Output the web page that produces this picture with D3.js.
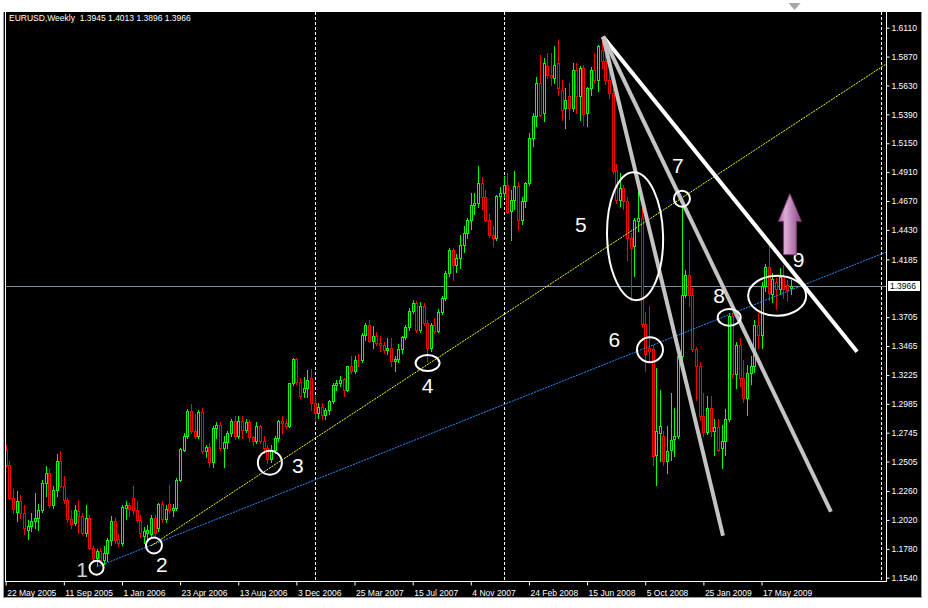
<!DOCTYPE html>
<html>
<head>
<meta charset="utf-8">
<script src="https://cdn.jsdelivr.net/npm/d3@7"></script>
<style>
  html, body { margin: 0; padding: 0; background: #fff; }
  svg { display: block; }
  text { font-family: "Liberation Sans", Arial, sans-serif; }
</style>
</head>
<body>
<svg id="chart"></svg>
<script>
// EURUSD weekly bars, first bar opens 22 May 2005
const firstBar = "2005-05-22";

const opens = [
  1.2604,1.2480,1.2205,1.2083,1.2174,1.2077,1.1940,1.1966,1.2010,1.2040,
  1.2099,1.2327,1.2410,1.2140,1.2271,1.2507,1.2300,1.2185,1.2030,1.1994,
  1.2095,1.2050,1.1911,1.2036,1.1787,1.1700,1.1759,1.1690,1.1745,1.1850,
  1.2010,1.1860,1.1830,1.2120,1.2140,1.2200,1.2100,1.2022,1.1890,1.1912,
  1.1900,1.2040,1.1950,1.2150,1.2030,1.2150,1.2100,1.2120,1.2354,1.2604,
  1.2714,1.2928,1.2756,1.2714,1.2914,1.2590,1.2625,1.2500,1.2784,1.2812,
  1.2620,1.2670,1.2740,1.2840,1.2720,1.2840,1.2770,1.2830,1.2710,1.2680,
  1.2800,1.2680,1.2620,1.2530,1.2600,1.2700,1.2839,1.2825,1.2800,1.3158,
  1.3357,1.3170,1.3080,1.3120,1.3200,1.2991,1.2908,1.2960,1.2890,1.2936,
  1.3005,1.3144,1.3158,1.3190,1.3102,1.3296,1.3255,1.3352,1.3349,1.3559,
  1.3640,1.3510,1.3545,1.3490,1.3470,1.3430,1.3450,1.3340,1.3360,1.3440,
  1.3540,1.3620,1.3760,1.3820,1.3600,1.3800,1.3660,1.3450,1.3640,1.3590,
  1.3750,1.3860,1.4070,1.4265,1.4141,1.4200,1.4307,1.4400,1.4510,1.4640,
  1.4650,1.4819,1.4700,1.4515,1.4390,1.4362,1.4709,1.4736,1.4806,1.4584,
  1.4681,1.4792,1.4515,1.4667,1.4819,1.5193,1.5373,1.5650,1.5401,1.5789,
  1.5719,1.5692,1.5816,1.5595,1.5442,1.5540,1.5442,1.5761,1.5539,1.5775,
  1.5401,1.5609,1.5761,1.5678,1.5927,1.5830,1.5678,1.5567,1.4930,1.4680,
  1.4778,1.4667,1.4362,1.4293,1.4501,1.4530,1.3650,1.3450,1.3440,1.2562,
  1.2742,1.2715,1.2507,1.2604,1.2690,1.2720,1.3379,1.3892,1.4058,1.3892,
  1.3440,1.3300,1.2881,1.2750,1.2950,1.2760,1.2790,1.2620,1.2680,1.2860,
  1.3711,1.3230,1.3470,1.3200,1.3030,1.3240,1.3300,1.3640,1.3560,1.3960,
  1.4120,1.3900,1.4000,1.3940,1.4040,1.3975,1.3945
];
const highs = [
  1.2640,1.2510,1.2280,1.2257,1.2230,1.2140,1.2022,1.2080,1.2244,1.2150,
  1.2355,1.2465,1.2440,1.2300,1.2570,1.2590,1.2382,1.2200,1.2100,1.2140,
  1.2188,1.2080,1.2147,1.2060,1.1800,1.1780,1.1790,1.1800,1.1870,1.2050,
  1.2040,1.1900,1.2140,1.2180,1.2160,1.2300,1.2180,1.2060,1.1960,1.1980,
  1.2060,1.2060,1.2160,1.2180,1.2140,1.2310,1.2150,1.2370,1.2620,1.2740,
  1.2940,1.2980,1.2900,1.2930,1.2950,1.2640,1.2660,1.2800,1.2830,1.2830,
  1.2720,1.2760,1.2860,1.2880,1.2880,1.2880,1.2860,1.2850,1.2720,1.2830,
  1.2810,1.2720,1.2640,1.2640,1.2720,1.2850,1.2880,1.2860,1.3160,1.3365,
  1.3365,1.3200,1.3210,1.3268,1.3270,1.3047,1.2990,1.2990,1.2950,1.3020,
  1.3160,1.3180,1.3220,1.3200,1.3300,1.3379,1.3379,1.3400,1.3570,1.3656,
  1.3680,1.3630,1.3580,1.3550,1.3500,1.3530,1.3530,1.3380,1.3480,1.3550,
  1.3640,1.3780,1.3850,1.3840,1.3830,1.3820,1.3680,1.3660,1.3700,1.3770,
  1.3880,1.4090,1.4280,1.4280,1.4230,1.4390,1.4460,1.4530,1.4736,1.4740,
  1.4958,1.4870,1.4760,1.4560,1.4459,1.4720,1.4790,1.4875,1.4902,1.4764,
  1.4916,1.4830,1.4700,1.4830,1.5235,1.5401,1.5700,1.5886,1.5858,1.5900,
  1.5900,1.5955,1.6010,1.5678,1.5609,1.5650,1.5816,1.5816,1.5789,1.5800,
  1.5620,1.5780,1.5900,1.5969,1.6038,1.5927,1.5740,1.5600,1.4980,1.4902,
  1.4800,1.4700,1.4400,1.4529,1.4764,1.4610,1.3750,1.3800,1.3470,1.3282,
  1.3102,1.2760,1.2798,1.3074,1.2950,1.3400,1.4681,1.4100,1.4349,1.3950,
  1.3460,1.3330,1.3074,1.3052,1.3050,1.2860,1.2860,1.2810,1.2940,1.3740,
  1.3740,1.3500,1.3530,1.3350,1.3310,1.3380,1.3680,1.3740,1.4000,1.4150,
  1.4300,1.4070,1.4030,1.4110,1.4140,1.4010,1.4013
];
const lows = [
  1.2470,1.2190,1.2080,1.2008,1.2040,1.1900,1.1860,1.1930,1.1950,1.1940,
  1.2090,1.2216,1.2130,1.2120,1.2220,1.2290,1.2160,1.2000,1.1950,1.1980,
  1.1911,1.1900,1.1883,1.1780,1.1670,1.1640,1.1660,1.1650,1.1680,1.1810,
  1.1830,1.1800,1.1810,1.2030,1.2050,1.2070,1.2000,1.1880,1.1830,1.1860,
  1.1870,1.1880,1.1930,1.2000,1.2000,1.2080,1.2050,1.2100,1.2340,1.2590,
  1.2700,1.2740,1.2700,1.2700,1.2580,1.2540,1.2470,1.2460,1.2700,1.2600,
  1.2460,1.2620,1.2720,1.2690,1.2700,1.2700,1.2750,1.2680,1.2640,1.2660,
  1.2660,1.2580,1.2490,1.2500,1.2580,1.2680,1.2740,1.2780,1.2790,1.3140,
  1.3150,1.3030,1.3040,1.3040,1.2936,1.2839,1.2870,1.2860,1.2860,1.2900,
  1.2990,1.3100,1.3130,1.3047,1.3090,1.3240,1.3240,1.3300,1.3330,1.3517,
  1.3500,1.3450,1.3470,1.3420,1.3410,1.3400,1.3300,1.3260,1.3330,1.3410,
  1.3520,1.3600,1.3740,1.3580,1.3580,1.3640,1.3340,1.3420,1.3570,1.3580,
  1.3730,1.3850,1.4050,1.4016,1.4080,1.4110,1.4250,1.4360,1.4440,1.4560,
  1.4620,1.4600,1.4500,1.4370,1.4293,1.4348,1.4620,1.4700,1.4570,1.4348,
  1.4600,1.4430,1.4480,1.4620,1.4800,1.5124,1.5290,1.5373,1.5332,1.5692,
  1.5630,1.5650,1.5553,1.5346,1.5276,1.5350,1.5420,1.5401,1.5346,1.5300,
  1.5290,1.5550,1.5650,1.5580,1.5775,1.5640,1.5530,1.4900,1.4650,1.4625,
  1.4600,1.4182,1.3848,1.4044,1.4420,1.3620,1.3260,1.3340,1.2480,1.2313,
  1.2507,1.2480,1.2410,1.2520,1.2550,1.2700,1.3290,1.3870,1.3795,1.3420,
  1.3020,1.2850,1.2715,1.2730,1.2720,1.2560,1.2590,1.2450,1.2560,1.2840,
  1.3200,1.3120,1.3130,1.3000,1.2890,1.3150,1.3250,1.3450,1.3450,1.3920,
  1.3850,1.3830,1.3770,1.3900,1.3860,1.3840,1.3896
];
const closes = [
  1.2480,1.2205,1.2110,1.2174,1.2077,1.1950,1.1966,1.2010,1.2040,1.2099,
  1.2327,1.2410,1.2140,1.2271,1.2507,1.2300,1.2185,1.2030,1.1990,1.2105,
  1.2050,1.1911,1.2036,1.1787,1.1700,1.1759,1.1690,1.1745,1.1850,1.2010,
  1.1850,1.1830,1.2130,1.2140,1.2110,1.2100,1.2022,1.1915,1.1930,1.1940,
  1.2040,1.1910,1.2150,1.2030,1.2110,1.2100,1.2120,1.2350,1.2609,1.2720,
  1.2928,1.2756,1.2720,1.2914,1.2590,1.2625,1.2500,1.2784,1.2812,1.2620,
  1.2670,1.2740,1.2840,1.2720,1.2840,1.2770,1.2830,1.2710,1.2680,1.2800,
  1.2680,1.2620,1.2530,1.2600,1.2700,1.2839,1.2825,1.2800,1.3158,1.3357,
  1.3170,1.3047,1.3120,1.3180,1.2991,1.2908,1.2960,1.2890,1.2936,1.3005,
  1.3144,1.3158,1.3185,1.3102,1.3296,1.3255,1.3352,1.3349,1.3559,1.3640,
  1.3510,1.3545,1.3490,1.3470,1.3430,1.3450,1.3340,1.3360,1.3440,1.3540,
  1.3620,1.3760,1.3820,1.3600,1.3800,1.3660,1.3450,1.3640,1.3590,1.3750,
  1.3860,1.4070,1.4265,1.4141,1.4200,1.4307,1.4400,1.4510,1.4640,1.4650,
  1.4819,1.4700,1.4515,1.4390,1.4362,1.4709,1.4736,1.4806,1.4580,1.4681,
  1.4792,1.4515,1.4667,1.4819,1.5193,1.5373,1.5650,1.5387,1.5816,1.5719,
  1.5700,1.5803,1.5609,1.5429,1.5512,1.5442,1.5761,1.5539,1.5775,1.5390,
  1.5609,1.5761,1.5678,1.5955,1.5830,1.5678,1.5567,1.4916,1.4680,1.4778,
  1.4667,1.4362,1.4279,1.4515,1.4530,1.3650,1.3400,1.3420,1.2550,1.2756,
  1.2798,1.2507,1.2590,1.2687,1.2720,1.3379,1.3892,1.4058,1.3892,1.3440,
  1.3300,1.2881,1.2750,1.2950,1.2760,1.2790,1.2600,1.2680,1.2860,1.3711,
  1.3230,1.3470,1.3200,1.3030,1.3240,1.3300,1.3640,1.3560,1.3960,1.4120,
  1.3905,1.4020,1.3940,1.4040,1.3940,1.3930,1.3966
];

const priceTicks = [1.6110, 1.5870, 1.5630, 1.5390, 1.5150, 1.4910, 1.4670, 1.4430, 1.4185,
  1.3705, 1.3465, 1.3225, 1.2985, 1.2745, 1.2505, 1.2260, 1.2020, 1.1780, 1.1540];
const dateLabels = ["22 May 2005", "11 Sep 2005", "1 Jan 2006", "23 Apr 2006", "13 Aug 2006",
  "3 Dec 2006", "25 Mar 2007", "15 Jul 2007", "4 Nov 2007", "24 Feb 2008", "15 Jun 2008",
  "5 Oct 2008", "25 Jan 2009", "17 May 2009"];
const separatorDates = ["7 Jan 2007", "6 Jan 2008", "3 Jan 2010"];

const title = "EURUSD,Weekly  1.3945 1.4013 1.3896 1.3966";
const lastPrice = 1.3966;

// trend lines: [bar index, price] anchors, drawn as rays to the right
const blueLine = [[25, 1.1629], [241, 1.4230]];
const yellowLine = [[40, 1.1805], [241, 1.5783]];
// fan lines from the July 2008 top
const fanTop = [164.4, 1.6035];
const fanEnds = [[234.3, 1.3418, "#ffffff"], [197.4, 1.1889, "#c4c4c4"], [227.1, 1.2088, "#c4c4c4"]];

// numbered marks: label, ring centre (bar, price), ring radii, label position (bar, price)
const marks = [
  ["1", 25.0, 1.1623, 7, 7, 21.0, 1.1606],
  ["2", 40.8, 1.1808, 8, 8, 43.0, 1.1648],
  ["3", 72.7, 1.2496, 12, 12, 80.4, 1.2471],
  ["4", 116.1, 1.3324, 12, 8, 116.1, 1.3140],
  ["5", 173.2, 1.4378, 28, 64, 158.3, 1.4477],
  ["6", 177.3, 1.3434, 13, 12.5, 167.5, 1.3522],
  ["7", 186.1, 1.4689, 8, 8, 185.0, 1.4968],
  ["8", 199.1, 1.3703, 11.5, 8.3, 196.3, 1.3887],
  ["9", 212.3, 1.3883, 29, 20, 218.2, 1.4182]
];
const arrowBar = 215.8;
const arrowPrices = [1.4224, 1.4501, 1.4731]; // bottom, head base, tip

const W = 928, H = 608;
const plot = {left: 5, right: 886, top: 12, bottom: 581};

const parseLabel = d3.utcParse("%d %b %Y");
const start = d3.utcParse("%Y-%m-%d")(firstBar);
const bars = opens.map((o, i) => ({
  date: d3.utcWeek.offset(start, i),
  o, h: highs[i], l: lows[i], c: closes[i]
}));

const x = d3.scaleUtc()
  .domain([start, bars[bars.length - 1].date])
  .range([5.7, 790.6]);
const y = d3.scaleLinear().domain([1.154, 1.611]).range([577.7, 27.7]);
const xAt = i => x(new Date(start.getTime() + i * 7 * 864e5));

const svg = d3.select('#chart').attr('width', W).attr('height', H);

svg.append('rect').attr('width', W).attr('height', H).attr('fill', '#fff');
svg.append('rect').attr('x', 4).attr('y', 12).attr('width', 917).attr('height', 585).attr('fill', '#000');
svg.append('line').attr('x1', 3.5).attr('x2', 3.5).attr('y1', 12).attr('y2', 598).attr('stroke', '#9a9a9a');
svg.append('line').attr('x1', 3).attr('x2', 922).attr('y1', 597.5).attr('y2', 597.5).attr('stroke', '#9a9a9a');
svg.append('line').attr('x1', 921.5).attr('x2', 921.5).attr('y1', 12).attr('y2', 598).attr('stroke', '#9a9a9a');

const defs = svg.append('defs');
defs.append('clipPath').attr('id', 'plotClip')
  .append('rect')
    .attr('x', plot.left).attr('y', plot.top)
    .attr('width', plot.right - plot.left).attr('height', plot.bottom - plot.top);

const grad = defs.append('linearGradient').attr('id', 'arrowFill')
  .attr('x1', '0%').attr('x2', '100%').attr('y1', '0%').attr('y2', '0%');
grad.append('stop').attr('offset', '0%').attr('stop-color', '#a65c9c');
grad.append('stop').attr('offset', '30%').attr('stop-color', '#dcaed6');
grad.append('stop').attr('offset', '100%').attr('stop-color', '#8e4284');

// year separators
svg.append('g')
  .selectAll('line')
  .data(separatorDates.map(parseLabel))
  .enter()
  .append('line')
    .attr('x1', d => Math.round(x(d)) + 0.5)
    .attr('x2', d => Math.round(x(d)) + 0.5)
    .attr('y1', plot.top)
    .attr('y2', plot.bottom)
    .attr('stroke', '#fff')
    .attr('stroke-dasharray', '3,2');

// last price line
svg.append('line')
  .attr('x1', plot.left).attr('x2', plot.right)
  .attr('y1', Math.round(y(lastPrice)) + 0.5).attr('y2', Math.round(y(lastPrice)) + 0.5)
  .attr('stroke', '#7d8da3');

// candles
const candles = svg.append('g').attr('shape-rendering', 'crispEdges');
const cg = candles.selectAll('g').data(bars).enter().append('g');
cg.append('line')
  .attr('x1', d => Math.round(x(d.date)) + 0.5)
  .attr('x2', d => Math.round(x(d.date)) + 0.5)
  .attr('y1', d => Math.round(y(d.h)))
  .attr('y2', d => Math.round(y(d.l)) + 1)
  .attr('stroke', d => d.c >= d.o ? '#00ff00' : '#ff0000');
cg.append('rect')
  .attr('x', d => Math.round(x(d.date)) - 1 + 0.5)
  .attr('width', 2)
  .attr('y', d => Math.round(y(Math.max(d.o, d.c))) + 0.5)
  .attr('height', d => Math.round(y(Math.min(d.o, d.c))) - Math.round(y(Math.max(d.o, d.c))))
  .attr('fill', '#000')
  .attr('stroke', d => d.c >= d.o ? '#00ff00' : '#ff0000');

// trend lines (rays clipped to the plot)
const ann = svg.append('g').attr('clip-path', 'url(#plotClip)');
function ray(a, b, toBar) {
  const slope = (b[1] - a[1]) / (b[0] - a[0]);
  return [a, [toBar, a[1] + slope * (toBar - a[0])]];
}
const lineGen = d3.line().x(d => xAt(d[0])).y(d => y(d[1]));
ann.append('path')
  .attr('d', lineGen(ray(blueLine[0], blueLine[1], 250)))
  .attr('fill', 'none').attr('stroke', '#1e90ff').attr('stroke-dasharray', '2,1');
ann.append('path')
  .attr('d', lineGen(ray(yellowLine[0], yellowLine[1], 250)))
  .attr('fill', 'none').attr('stroke', '#ffff00').attr('stroke-dasharray', '2,1');

ann.selectAll('path.fan')
  .data(fanEnds)
  .enter()
  .append('path')
    .attr('class', 'fan')
    .attr('d', d => lineGen([fanTop, [d[0], d[1]]]))
    .attr('stroke', d => d[2])
    .attr('stroke-width', 4)
    .attr('fill', 'none');

// rings and numbers
ann.selectAll('ellipse')
  .data(marks)
  .enter()
  .append('ellipse')
    .attr('cx', d => xAt(d[1]))
    .attr('cy', d => y(d[2]))
    .attr('rx', d => d[3])
    .attr('ry', d => d[4])
    .attr('transform', d => d[0] === '5' ? `rotate(-1.5 ${xAt(d[1])} ${y(d[2])})` : null)
    .attr('fill', 'none')
    .attr('stroke', '#fff')
    .attr('stroke-width', 2);

ann.selectAll('text.num')
  .data(marks)
  .enter()
  .append('text')
    .attr('class', 'num')
    .attr('x', d => xAt(d[5]))
    .attr('y', d => y(d[6]))
    .attr('dy', '0.36em')
    .attr('text-anchor', 'middle')
    .attr('font-size', '21px')
    .attr('fill', d => d[0] === '1' ? '#c9d2de' : '#fff')
    .text(d => d[0]);

// purple arrow
const ax = xAt(arrowBar);
const [yb, yn, yt] = arrowPrices.map(y);
ann.append('path')
  .attr('d', `M${ax - 6.5},${yb} L${ax - 6.5},${yn} L${ax - 11.5},${yn} L${ax},${yt} L${ax + 11.5},${yn} L${ax + 6.5},${yn} L${ax + 6.5},${yb} Z`)
  .attr('fill', 'url(#arrowFill)')
  .attr('stroke', '#7e3a76')
  .attr('stroke-width', 1);

// frame of the plot
const frame = svg.append('g').attr('stroke', '#fff').attr('shape-rendering', 'crispEdges');
frame.append('line').attr('x1', plot.left + 0.5).attr('x2', plot.left + 0.5).attr('y1', plot.top).attr('y2', plot.bottom);
frame.append('line').attr('x1', plot.left).attr('x2', plot.right + 1).attr('y1', plot.bottom + 0.5).attr('y2', plot.bottom + 0.5);
frame.append('line').attr('x1', plot.right + 0.5).attr('x2', plot.right + 0.5).attr('y1', plot.top).attr('y2', plot.bottom);

// price axis
const yAxis = svg.append('g')
  .attr('transform', `translate(${plot.right + 0.5},0)`)
  .call(d3.axisRight(y).tickValues(priceTicks).tickSize(3).tickPadding(2).tickFormat(d3.format('.4f')));
yAxis.select('.domain').remove();
yAxis.selectAll('line').attr('stroke', '#fff');
yAxis.selectAll('text').attr('fill', '#fff').attr('font-size', '8.5px').attr('font-family', '"Liberation Sans", Arial, sans-serif');

// last price tag
const tagY = y(lastPrice);
svg.append('rect').attr('x', 888).attr('y', Math.round(tagY) - 5).attr('width', 32).attr('height', 10).attr('fill', '#fff');
svg.append('text').attr('x', 890).attr('y', tagY).attr('dy', '0.35em')
  .attr('font-size', '8.5px').attr('fill', '#000').text(d3.format('.4f')(lastPrice));

// date axis
const xAxis = svg.append('g')
  .attr('transform', `translate(0,${plot.bottom + 0.5})`)
  .call(d3.axisBottom(x).tickValues(dateLabels.map(parseLabel)).tickSize(4).tickPadding(4)
    .tickFormat(d3.utcFormat('%-d %b %Y')));
xAxis.select('.domain').remove();
xAxis.selectAll('line').attr('stroke', '#fff');
xAxis.selectAll('text')
  .attr('text-anchor', 'start')
  .attr('x', 1)
  .attr('fill', '#fff')
  .attr('font-size', '8.5px')
  .attr('font-family', '"Liberation Sans", Arial, sans-serif');

// header
svg.append('text').attr('x', 9).attr('y', 21).attr('fill', '#fff').attr('font-size', '8.5px')
  .attr('xml:space', 'preserve').style('white-space', 'pre').text(title);

// chart shift marker
const sx = x(bars[bars.length - 1].date) + 4;
svg.append('path').attr('d', `M${sx - 6},3 L${sx + 6},3 L${sx},10 Z`).attr('fill', '#a8a8a8');
</script>
</body>
</html>
